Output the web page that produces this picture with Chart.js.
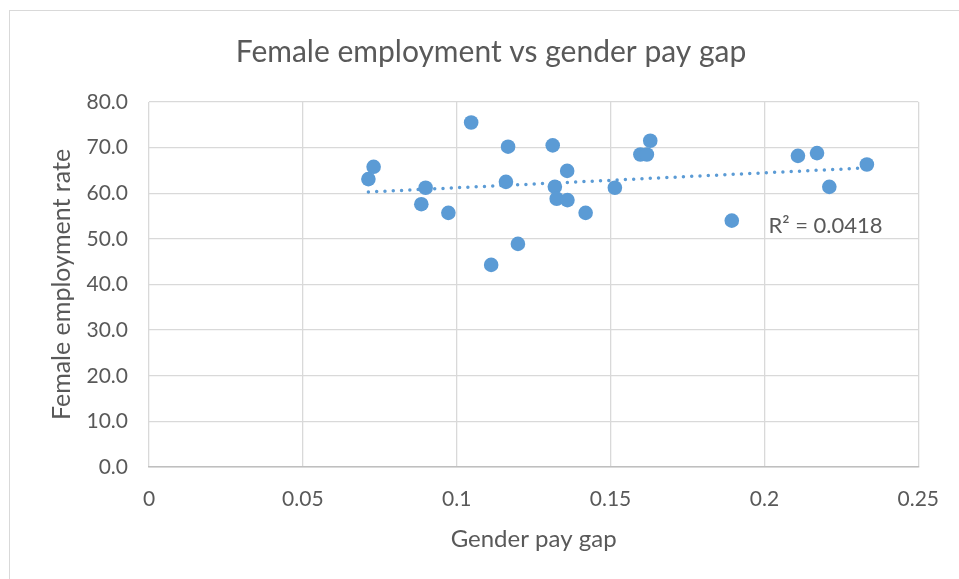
<!DOCTYPE html>
<html>
<head>
<meta charset="utf-8">
<script src="https://cdn.jsdelivr.net/npm/chart.js@4.4.0/dist/chart.umd.min.js"></script>
<style>
  html, body { margin: 0; padding: 0; background: #fff; }
  #wrap { position: relative; width: 959px; height: 579px; }
  #frame {
    position: absolute; left: 9px; top: 10px; right: 0; bottom: 0;
    border-left: 1px solid #d9d9d9; border-top: 1px solid #d9d9d9;
    pointer-events: none;
  }
</style>
</head>
<body>
<div id="wrap">
  <canvas id="scatterChart"></canvas>
  <div id="frame"></div>
</div>
<script>
// Gender pay gap (x) vs female employment rate (y)
const payGap = [0.0713, 0.0730, 0.0885, 0.0899, 0.0973, 0.1047, 0.1112, 0.1160, 0.1167, 0.1199,
                0.1312, 0.1319, 0.1325, 0.1359, 0.1360, 0.1419, 0.1514, 0.1597, 0.1618, 0.1629,
                0.1894, 0.2109, 0.2171, 0.2211, 0.2333];
const employmentRate = [63.1, 65.8, 57.6, 61.2, 55.7, 75.5, 44.3, 62.5, 70.2, 48.9,
                        70.5, 61.4, 58.8, 64.9, 58.5, 55.7, 61.2, 68.5, 68.5, 71.5,
                        54.0, 68.2, 68.8, 61.4, 66.3];
const xTicks = [0, 0.05, 0.1, 0.15, 0.2, 0.25];
const yTicks = [0, 10, 20, 30, 40, 50, 60, 70, 80];
const r2Text = 'R\u00b2 = 0.0418';

const textColor = '#595959';
const blue = '#5b9bd5';
const fontFamily = 'Lato, "Open Sans", sans-serif';

// linear trendline (least squares), drawn over the data x range
function trendPoints(xs, ys) {
    const n = xs.length;
    const mx = xs.reduce((a, b) => a + b, 0) / n;
    const my = ys.reduce((a, b) => a + b, 0) / n;
    let sxy = 0, sxx = 0;
    for (let i = 0; i < n; i++) {
        sxy += (xs[i] - mx) * (ys[i] - my);
        sxx += (xs[i] - mx) * (xs[i] - mx);
    }
    const slope = sxy / sxx;
    const x0 = Math.min(...xs), x1 = Math.max(...xs);
    return [
        { x: x0, y: my + slope * (x0 - mx) },
        { x: x1, y: my + slope * (x1 - mx) }
    ];
}

const points = payGap.map((x, i) => ({ x: x, y: employmentRate[i] }));

// R² label next to the trendline
const r2Plugin = {
    id: 'r2Label',
    afterDatasetsDraw(chart) {
        const ctx = chart.ctx;
        const xs = chart.scales.x, ys = chart.scales.y;
        ctx.save();
        ctx.font = '22px ' + fontFamily;
        ctx.fillStyle = textColor;
        ctx.textBaseline = 'middle';
        ctx.textAlign = 'left';
        ctx.fillText(r2Text, xs.getPixelForValue(0.2) + 4, ys.getPixelForValue(52.8));
        ctx.restore();
    }
};

// Excel centres the title on the whole chart, not on the space left of the padding
const titleCenterPlugin = {
    id: 'titleCenter',
    afterLayout(chart) {
        if (chart.titleBlock) {
            chart.titleBlock.left = 0;
            chart.titleBlock.right = 982;
        }
    }
};

new Chart(document.getElementById('scatterChart'), {
    type: 'scatter',
    data: {
        datasets: [
            {
                label: 'Trend',
                type: 'line',
                data: trendPoints(payGap, employmentRate),
                borderColor: blue,
                borderWidth: 3.5,
                borderDash: [0, 8.3],
                borderCapStyle: 'round',
                pointRadius: 0,
                fill: false,
                order: 2
            },
            {
                label: 'Female employment rate',
                data: points,
                backgroundColor: blue,
                borderColor: blue,
                borderWidth: 0,
                pointRadius: 7.3,
                pointHoverRadius: 7.3,
                order: 1
            }
        ]
    },
    options: {
        responsive: true,
        maintainAspectRatio: false,
        animation: false,
        layout: { padding: { top: 0, right: 33, bottom: 0, left: 0 } },
        plugins: {
            legend: { display: false },
            tooltip: { enabled: false },
            title: {
                display: true,
                text: 'Female employment vs gender pay gap',
                color: textColor,
                font: { family: fontFamily, size: 30, weight: 'normal' },
                padding: { top: 34, bottom: 32 }
            }
        },
        scales: {
            x: {
                type: 'linear',
                min: 0,
                max: 0.25,
                afterBuildTicks(scale) {
                    scale.ticks = xTicks.map(v => ({ value: v }));
                },
                afterFit(scale) {
                    scale.height = 579 - 467;
                },
                grid: { color: '#d9d9d9', lineWidth: 1.3, drawTicks: false },
                border: { color: '#bfbfbf', width: 1.5 },
                ticks: {
                    color: textColor,
                    padding: 20,
                    font: { family: fontFamily, size: 21 },
                    callback: v => String(Number(v.toFixed(2)))
                },
                title: {
                    display: true,
                    text: 'Gender pay gap',
                    color: textColor,
                    font: { family: fontFamily, size: 24 },
                    padding: { top: 0, bottom: 25 }
                }
            },
            y: {
                type: 'linear',
                min: 0,
                max: 80,
                afterBuildTicks(scale) {
                    scale.ticks = yTicks.map(v => ({ value: v }));
                },
                afterFit(scale) {
                    scale.width = 149;
                },
                grid: { color: '#d9d9d9', lineWidth: 1.3, drawTicks: false },
                border: { display: false },
                ticks: {
                    color: textColor,
                    padding: 21,
                    font: { family: fontFamily, size: 21 },
                    callback: v => v.toFixed(1)
                },
                title: {
                    display: true,
                    text: 'Female employment rate',
                    color: textColor,
                    font: { family: fontFamily, size: 25 },
                    padding: { top: 47, bottom: 0 }
                }
            }
        }
    },
    plugins: [r2Plugin, titleCenterPlugin]
});
</script>
</body>
</html>
